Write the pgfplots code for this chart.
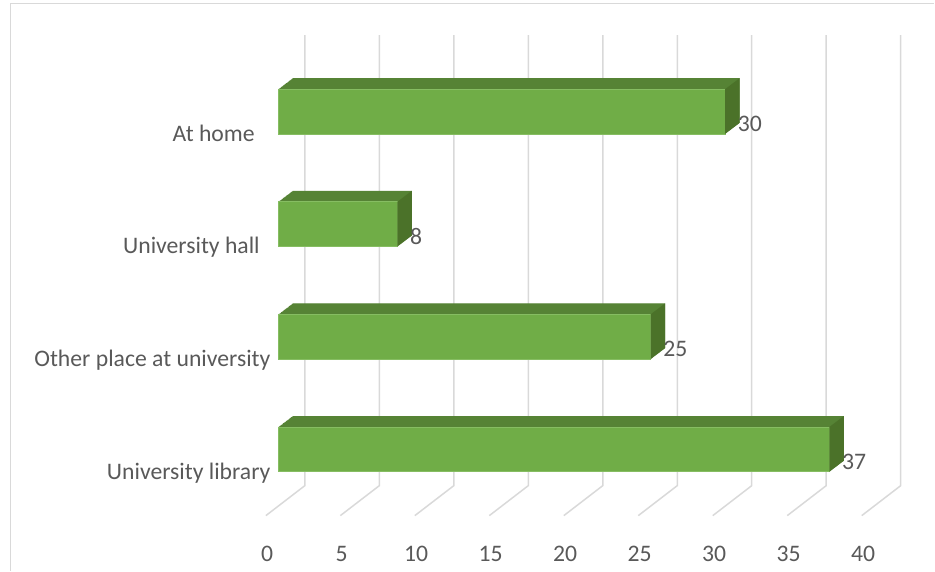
\documentclass[border=0pt]{standalone}
\usepackage{fontspec}
\setmainfont{Carlito}
\usepackage{pgfplots}
\usepackage{pgfplotstable}
\pgfplotsset{compat=1.18}
\definecolor{txt}{HTML}{595959}
\definecolor{gridc}{HTML}{D9D9D9}
\definecolor{frontc}{HTML}{70AD47}
\definecolor{topc}{HTML}{568335}
\definecolor{sidec}{HTML}{4B7229}
\definecolor{edgec}{HTML}{86BD62}

\pgfdeclareplotmark{sideface}{%
  \pgfpathmoveto{\pgfpoint{0bp}{-22.4bp}}%
  \pgfpathlineto{\pgfpoint{0bp}{22.4bp}}%
  \pgfpathlineto{\pgfpoint{14.5bp}{33.4bp}}%
  \pgfpathlineto{\pgfpoint{14.5bp}{-11.4bp}}%
  \pgfpathclose
  \pgfusepathqfill}

% c: category index (0 = bottom), v: value
\pgfplotstableread{
c v
0 37
1 25
2 8
3 30
}\datatable

\newcommand{\chartfont}{\fontsize{23.7bp}{28bp}\selectfont}

\begin{document}
\begin{tikzpicture}
\begin{axis}[
  width=935bp, height=571bp, scale only axis,
  xmin=-18.666, xmax=44.044, ymin=-1.0763, ymax=3.990,
  axis line style={draw=none},
  major tick length=0pt,
  xtick={0,5,...,40},
  ytick={0,1,2,3},
  yticklabels={University library, Other place at university, University hall\hspace*{10.7bp}, At home\hspace*{15.7bp}},
  clip=false,
  /pgf/number format/assume math mode=true,
  tick label style={font=\chartfont, text=txt, inner sep=0pt},
  xticklabel style={anchor=base, xshift=-11bp, yshift=9.5bp},
  yticklabel style={anchor=base east, xshift=270.7bp, yshift=-29.7bp},
]
% chart border
\draw[gridc, line width=1.5bp] (axis cs:-17.961,-1.0763) |- (axis cs:44.044,3.9592);
% 3-D gridlines (floor + back wall)
\addplot[gridc, line width=1.5bp, forget plot] coordinates {(-0.825,-0.5883) (1.791,-0.3221) (1.791,3.6797)};
\addplot[gridc, line width=1.5bp, forget plot] coordinates {(4.175,-0.5883) (6.791,-0.3221) (6.791,3.6797)};
\addplot[gridc, line width=1.5bp, forget plot] coordinates {(9.175,-0.5883) (11.791,-0.3221) (11.791,3.6797)};
\addplot[gridc, line width=1.5bp, forget plot] coordinates {(14.175,-0.5883) (16.791,-0.3221) (16.791,3.6797)};
\addplot[gridc, line width=1.5bp, forget plot] coordinates {(19.175,-0.5883) (21.791,-0.3221) (21.791,3.6797)};
\addplot[gridc, line width=1.5bp, forget plot] coordinates {(24.175,-0.5883) (26.791,-0.3221) (26.791,3.6797)};
\addplot[gridc, line width=1.5bp, forget plot] coordinates {(29.175,-0.5883) (31.791,-0.3221) (31.791,3.6797)};
\addplot[gridc, line width=1.5bp, forget plot] coordinates {(34.175,-0.5883) (36.791,-0.3221) (36.791,3.6797)};
\addplot[gridc, line width=1.5bp, forget plot] coordinates {(39.175,-0.5883) (41.791,-0.3221) (41.791,3.6797)};
% depth of the bars (top face), extruded
\pgfplotsinvokeforeach{1,...,20}{
  \addplot[xbar, bar width=44.8bp, bar shift=#1*0.55bp, xshift=#1*0.725bp, fill=topc, draw=none, forget plot]
    table[x=v, y=c]{\datatable};
}
% right side face of the bars
\addplot[only marks, mark=sideface, mark options={fill=sidec, draw=none}, forget plot]
  table[x=v, y=c]{\datatable};
% front face
\addplot[xbar, bar width=44.8bp, bar shift=0pt, fill=frontc, draw=edgec, line width=0.6bp,
  nodes near coords,
  nodes near coords style={anchor=base west, inner sep=0pt, xshift=12.5bp, yshift=-20bp, font=\chartfont, text=txt}]
  table[x=v, y=c]{\datatable};
\end{axis}
\end{tikzpicture}
\end{document}
